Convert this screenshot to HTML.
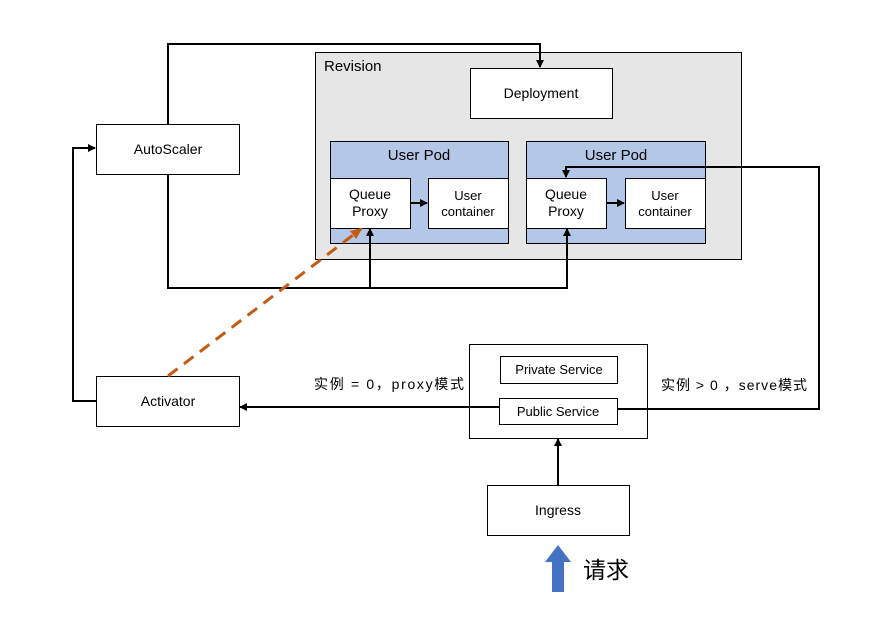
<!DOCTYPE html>
<html><head><meta charset="utf-8"><style>body{margin:0;background:#fff}svg{display:block}text{font-family:"Liberation Sans","Noto Sans CJK SC",sans-serif;fill:#000}</style></head><body>
<svg width="882" height="617" viewBox="0 0 882 617" xmlns="http://www.w3.org/2000/svg">
<defs>
<marker id="a" markerWidth="8" markerHeight="8" refX="7" refY="4" orient="auto" markerUnits="userSpaceOnUse"><path d="M0,0 L8,4 L0,8z" fill="#000"/></marker>
<marker id="o" markerWidth="12" markerHeight="10" refX="10" refY="5" orient="auto" markerUnits="userSpaceOnUse"><path d="M0,0 L12,5 L0,10z" fill="#c55a11"/></marker>
</defs>
<rect x="315.5" y="52.5" width="426" height="207" fill="#e7e6e6" stroke="#000"/>
<text x="324" y="71" font-size="15">Revision</text>
<rect x="470.5" y="68.5" width="142" height="50" fill="#fff" stroke="#000"/>
<text x="541" y="98" font-size="14" text-anchor="middle">Deployment</text>
<rect x="330.5" y="141.5" width="178" height="102" fill="#b4c7e7" stroke="#000"/>
<text x="419" y="160" font-size="15" text-anchor="middle">User Pod</text>
<rect x="330.5" y="178.5" width="80" height="50" fill="#fff" stroke="#000"/>
<text x="370" y="199" font-size="14" text-anchor="middle">Queue</text>
<text x="370" y="216" font-size="14" text-anchor="middle">Proxy</text>
<rect x="428.5" y="178.5" width="80" height="50" fill="#fff" stroke="#000"/>
<text x="468" y="200" font-size="13" text-anchor="middle">User</text>
<text x="468" y="216" font-size="13" text-anchor="middle">container</text>
<rect x="526.5" y="141.5" width="179" height="102" fill="#b4c7e7" stroke="#000"/>
<text x="616" y="160" font-size="15" text-anchor="middle">User Pod</text>
<rect x="526.5" y="178.5" width="80" height="50" fill="#fff" stroke="#000"/>
<text x="566" y="199" font-size="14" text-anchor="middle">Queue</text>
<text x="566" y="216" font-size="14" text-anchor="middle">Proxy</text>
<rect x="625.5" y="178.5" width="80" height="50" fill="#fff" stroke="#000"/>
<text x="665" y="200" font-size="13" text-anchor="middle">User</text>
<text x="665" y="216" font-size="13" text-anchor="middle">container</text>
<line x1="410" y1="203" x2="427" y2="203" stroke="#000" stroke-width="2" marker-end="url(#a)"/>
<line x1="606" y1="203" x2="624" y2="203" stroke="#000" stroke-width="2" marker-end="url(#a)"/>
<rect x="96.5" y="124.5" width="143" height="50" fill="#fff" stroke="#000"/>
<text x="168" y="154" font-size="14" text-anchor="middle">AutoScaler</text>
<rect x="96.5" y="376.5" width="143" height="50" fill="#fff" stroke="#000"/>
<text x="168" y="406" font-size="14" text-anchor="middle">Activator</text>
<rect x="469.5" y="344.5" width="178" height="94" fill="#fff" stroke="#000"/>
<rect x="500.5" y="356.5" width="117" height="27" fill="#fff" stroke="#000"/>
<text x="559" y="374" font-size="13" text-anchor="middle">Private Service</text>
<rect x="499.5" y="398.5" width="118" height="26" fill="#fff" stroke="#000"/>
<text x="558" y="416" font-size="13" text-anchor="middle">Public Service</text>
<rect x="487.5" y="485.5" width="142" height="50" fill="#fff" stroke="#000"/>
<text x="558" y="515" font-size="14" text-anchor="middle">Ingress</text>
<polyline points="168,124 168,44 540,44 540,67" fill="none" stroke="#000" stroke-width="2" marker-end="url(#a)"/>
<polyline points="168,174 168,288 567,288 567,229" fill="none" stroke="#000" stroke-width="2" marker-end="url(#a)"/>
<line x1="370" y1="288" x2="370" y2="229" stroke="#000" stroke-width="2" marker-end="url(#a)"/>
<polyline points="96,401 73,401 73,148 95,148" fill="none" stroke="#000" stroke-width="2" marker-end="url(#a)"/>
<line x1="499" y1="407" x2="240" y2="407" stroke="#000" stroke-width="2" marker-end="url(#a)"/>
<polyline points="617,409 819,409 819,167 566,167 566,177" fill="none" stroke="#000" stroke-width="2" marker-end="url(#a)"/>
<line x1="558" y1="485" x2="558" y2="439" stroke="#000" stroke-width="2" marker-end="url(#a)"/>
<line x1="168" y1="376" x2="361" y2="229" stroke="#c55a11" stroke-width="3" stroke-dasharray="12,8" marker-end="url(#o)"/>
<text x="314" y="389" font-size="14" textLength="150" lengthAdjust="spacing">实例  = 0，proxy模式</text>
<text x="661" y="390" font-size="14" textLength="146" lengthAdjust="spacing">实例 &gt; 0 ，serve模式</text>
<path d="M552,592 L552,562 L545,562 L558,545 L571,562 L564,562 L564,592z" fill="#4472c4"/>
<text x="583" y="578" font-size="23">请求</text>
</svg>
</body></html>
